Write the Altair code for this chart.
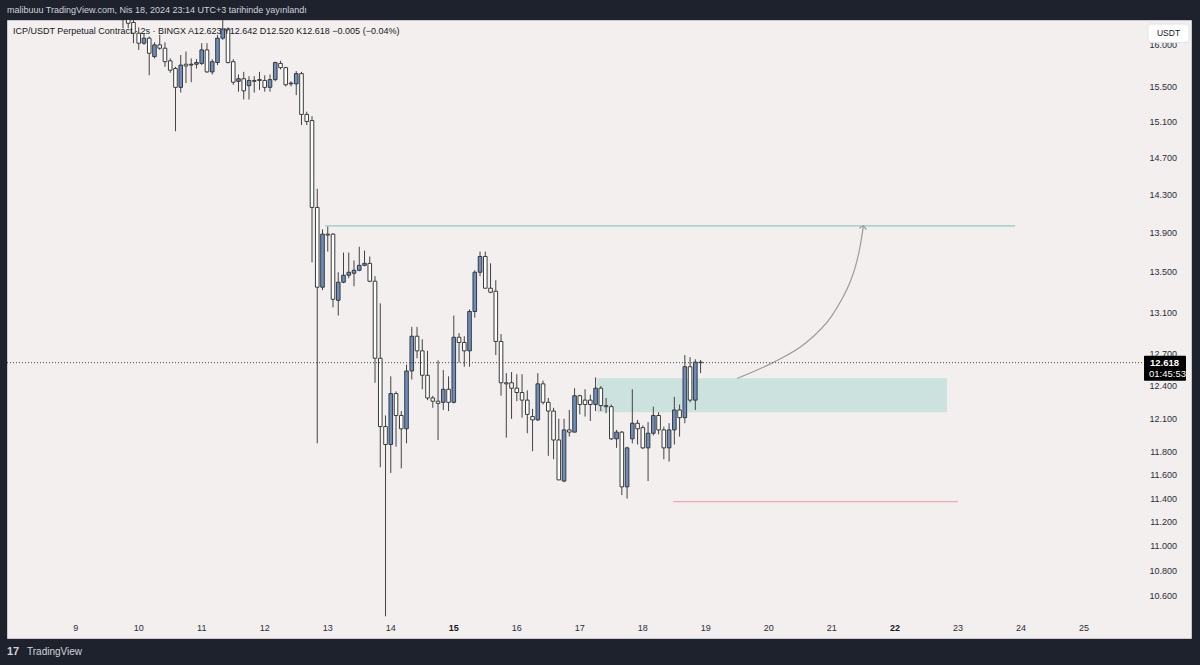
import altair as alt
import pandas as pd
import numpy as np

# ---------------- data (2h candles, ICP/USDT) ----------------
opens = [16.42, 16.31, 16.27, 16.14, 16.02, 16.08, 15.86, 16.00, 15.96, 15.81,
         15.72, 15.50, 15.77, 15.76, 15.77, 15.78, 15.94, 15.68, 15.79, 16.08,
         16.19, 15.80, 15.57, 15.60, 15.52, 15.58, 15.58, 15.58, 15.50, 15.59,
         15.78, 15.73, 15.54, 15.54, 15.66, 15.19, 15.12, 14.17, 13.35, 13.89,
         13.89, 13.22, 13.40, 13.47, 13.49, 13.52, 13.57, 13.59, 13.41, 12.66,
         12.03, 11.87, 12.33, 12.13, 12.01, 12.54, 12.87, 12.73, 12.50, 12.29,
         12.26, 12.25, 12.37, 12.25, 12.86, 12.81, 12.73, 13.11, 13.50, 13.66,
         13.34, 13.31, 12.82, 12.43, 12.43, 12.38, 12.34, 12.27, 12.12, 12.09,
         12.42, 12.25, 12.17, 11.91, 11.55, 12.00, 11.98, 12.31, 12.27, 12.27,
         12.23, 12.38, 12.22, 12.21, 11.92, 11.98, 11.50, 11.92, 12.06, 12.02,
         11.84, 11.97, 12.13, 12.00, 11.84, 12.00, 12.18, 12.11, 12.58, 12.27,
         12.623]
highs = [16.50, 16.36, 16.30, 16.21, 16.14, 16.10, 16.03, 16.12, 16.03, 15.84,
         15.74, 15.88, 15.92, 15.84, 15.83, 16.02, 16.02, 15.83, 16.12, 16.35,
         16.21, 15.83, 15.65, 15.68, 15.63, 15.63, 15.68, 15.64, 15.65, 15.80,
         15.81, 15.74, 15.57, 15.69, 15.68, 15.22, 15.17, 14.37, 13.94, 13.97,
         13.90, 13.50, 13.70, 13.70, 13.62, 13.76, 13.72, 13.66, 13.46, 13.19,
         12.13, 12.49, 12.35, 12.17, 12.60, 12.96, 12.96, 12.84, 12.73, 12.31,
         12.64, 12.55, 12.49, 13.07, 12.90, 12.87, 13.13, 13.52, 13.71, 13.71,
         13.59, 13.42, 12.89, 12.52, 12.53, 12.51, 12.51, 12.36, 12.19, 12.52,
         12.45, 12.29, 12.20, 12.10, 12.10, 12.18, 12.38, 12.32, 12.37, 12.32,
         12.48, 12.40, 12.29, 12.23, 12.00, 11.99, 11.85, 12.37, 12.09, 12.04,
         12.07, 12.21, 12.16, 12.03, 12.06, 12.30, 12.23, 12.69, 12.67, 12.65,
         12.642]
lows = [16.20, 16.20, 16.02, 15.94, 16.00, 15.64, 15.84, 15.94, 15.74, 15.67,
        15.00, 15.44, 15.55, 15.56, 15.72, 15.76, 15.67, 15.65, 15.76, 16.06,
        15.78, 15.53, 15.45, 15.36, 15.36, 15.44, 15.47, 15.45, 15.45, 15.57,
        15.71, 15.51, 15.51, 15.41, 15.07, 15.07, 13.60, 11.88, 13.32, 13.71,
        13.15, 13.07, 13.39, 13.44, 13.36, 13.51, 13.56, 13.40, 12.43, 11.67,
        10.44, 11.62, 11.85, 11.66, 11.88, 12.46, 12.66, 12.37, 12.27, 12.20,
        11.91, 12.18, 12.17, 12.24, 12.62, 12.58, 12.58, 13.05, 13.46, 13.34,
        13.29, 12.69, 12.31, 11.93, 12.10, 12.26, 12.11, 11.97, 11.81, 12.08,
        12.23, 11.77, 11.74, 11.56, 11.54, 11.94, 11.98, 12.14, 12.12, 12.08,
        12.17, 12.17, 12.15, 11.91, 11.84, 11.43, 11.40, 11.88, 11.87, 11.83,
        11.55, 11.95, 11.96, 11.74, 11.72, 11.87, 11.94, 12.06, 12.25, 12.18,
        12.520]
closes = [16.31, 16.26, 16.14, 16.02, 16.08, 15.90, 16.00, 15.96, 15.80, 15.70,
          15.50, 15.76, 15.75, 15.77, 15.79, 15.94, 15.68, 15.80, 16.08, 16.19,
          15.79, 15.56, 15.60, 15.46, 15.58, 15.57, 15.59, 15.50, 15.59, 15.79,
          15.73, 15.53, 15.55, 15.66, 15.19, 15.11, 14.17, 13.35, 13.89, 13.88,
          13.23, 13.40, 13.47, 13.50, 13.52, 13.57, 13.59, 13.41, 12.66, 12.03,
          11.87, 12.33, 12.13, 12.01, 12.54, 12.87, 12.73, 12.50, 12.29, 12.26,
          12.24, 12.37, 12.25, 12.86, 12.81, 12.73, 13.11, 13.50, 13.66, 13.34,
          13.30, 12.82, 12.43, 12.42, 12.38, 12.34, 12.27, 12.14, 12.09, 12.42,
          12.25, 12.17, 11.91, 11.56, 12.00, 11.98, 12.31, 12.23, 12.23, 12.23,
          12.38, 12.22, 12.21, 11.92, 11.98, 11.50, 11.84, 12.06, 12.01, 11.84,
          11.97, 12.13, 12.00, 11.84, 12.00, 12.18, 12.11, 12.58, 12.27, 12.623,
          12.618]
first_bar = "2024-04-09 18:00"   # open time of first drawn bar, 2-hour bars

# price-axis tick labels and day labels
price_ticks = [10.6, 10.8, 11.0, 11.2, 11.4, 11.6, 11.8, 12.1, 12.4, 12.7,
               13.1, 13.5, 13.9, 14.3, 14.7, 15.1, 15.5, 16.0]
day_ticks = [9, 10, 11, 12, 13, 14, 16, 17, 18, 19, 20, 21, 23, 24, 25]
week_start_days = [15, 22]   # drawn in bold

# drawings (day-of-April, price)
target_line = {"t0": 12.96, "t1": 23.91, "p": 13.977}
support_line = {"t0": 18.48, "t1": 23.00, "p": 11.374}
zone = {"t0": 17.278, "t1": 22.828, "p0": 12.16, "p1": 12.473}
arrow_t = [19.496, 20.047, 20.573, 20.991, 21.149, 21.281, 21.375, 21.438, 21.501]
arrow_p = [12.47, 12.614, 12.80, 13.06, 13.22, 13.39, 13.56, 13.73, 13.977]
last_price = 12.618

# ---------------- frame ----------------
W, H = 1184, 618
times = pd.date_range(first_bar, periods=len(opens), freq="2h")
df = pd.DataFrame({
    "t": times.day + times.hour / 24.0,
    "open": opens, "high": highs, "low": lows, "close": closes,
})
df["dir"] = np.where(df["close"] >= df["open"], "up", "down")

xs = alt.Scale(domain=[7.989, 26.620], nice=False, zero=False)
ys = alt.Scale(type="log", domain=[10.272, 16.30], nice=False)
X = lambda f: alt.X(f, scale=xs, axis=None)
Y = lambda f: alt.Y(f, scale=ys, axis=None)

FONT = "Liberation Sans"
LABEL = "#2a2e39"

base = alt.Chart(df)
wicks = base.mark_rule(color="#434343", strokeWidth=1, clip=True).encode(
    x=X("t:Q"), y=Y("low:Q"), y2="high:Q")
bodies = base.mark_bar(size=3.6, stroke="#3a3a3a", strokeWidth=1, clip=True).encode(
    x=X("t:Q"), y=Y("open:Q"), y2="close:Q",
    fill=alt.Fill("dir:N", scale=alt.Scale(domain=["up", "down"], range=["#6a8ec2", "#ffffff"]), legend=None),
)

# axis labels drawn as text through the scales
day_df = pd.DataFrame({"d": day_ticks})
wk_df = pd.DataFrame({"d": week_start_days})
day_lab = alt.Chart(day_df).mark_text(fontSize=9, font=FONT, color=LABEL, baseline="middle").encode(
    x=X("d:Q"), y=alt.value(608), text=alt.Text("d:Q", format="d"))
wk_lab = alt.Chart(wk_df).mark_text(fontSize=9, font=FONT, color="#131722", fontWeight="bold",
                                    baseline="middle").encode(
    x=X("d:Q"), y=alt.value(608), text=alt.Text("d:Q", format="d"))
pr_df = pd.DataFrame({"v": price_ticks})
pr_lab = alt.Chart(pr_df).mark_text(fontSize=9, font=FONT, color=LABEL, align="right",
                                    baseline="middle").encode(
    x=alt.value(1170), y=Y("v:Q"), text=alt.Text("v:Q", format=".3f"))

zone_df = pd.DataFrame([zone])
zone_rect = alt.Chart(zone_df).mark_rect(color="#cce2de", opacity=1, clip=True).encode(
    x=X("t0:Q"), x2="t1:Q", y=Y("p0:Q"), y2="p1:Q")
tline = alt.Chart(pd.DataFrame([target_line])).mark_rule(color="#8ccbbe", strokeWidth=1.3).encode(
    x=X("t0:Q"), x2="t1:Q", y=Y("p:Q"))
sline = alt.Chart(pd.DataFrame([support_line])).mark_rule(color="#f5a9ae", strokeWidth=1.3).encode(
    x=X("t0:Q"), x2="t1:Q", y=Y("p:Q"))
arrow_df = pd.DataFrame({"t": arrow_t, "p": arrow_p})
arrow = alt.Chart(arrow_df).mark_line(color="#9c9c9c", strokeWidth=1.2, interpolate="monotone").encode(
    x=X("t:Q"), y=Y("p:Q"))
head = alt.Chart(arrow_df.tail(1)).mark_point(
    shape="M -1 0.9 L 0 0 L 1 0.9", filled=False, size=50, angle=10,
    color="#9c9c9c", strokeWidth=1.2, opacity=1).encode(x=X("t:Q"), y=Y("p:Q"))

lp_df = pd.DataFrame({"p": [last_price], "lab": [f"{last_price:.3f}"], "cd": ["01:45:53"]})
lp_line = alt.Chart(lp_df).mark_rule(color="#444444", strokeWidth=1, strokeDash=[1, 2]).encode(
    x=alt.value(0), x2=alt.value(1137), y=Y("p:Q"))
lp_box = alt.Chart(lp_df).mark_rect(color="#000000", yOffset=-7, y2Offset=18, cornerRadius=1).encode(
    x=alt.value(1137), x2=alt.value(1179), y=Y("p:Q"), y2="p:Q")
lp_txt = alt.Chart(lp_df).mark_text(color="white", fontSize=9.5, fontWeight="bold", font=FONT,
                                     align="left", baseline="middle").encode(
    x=alt.value(1143), y=Y("p:Q"), text="lab:N")
lp_cd = alt.Chart(lp_df).mark_text(color="white", fontSize=9.5, font=FONT, dy=11,
                                    align="left", baseline="middle").encode(
    x=alt.value(1142), y=Y("p:Q"), text="cd:N")

one = pd.DataFrame({"a": [0]})
usdt_box = alt.Chart(one).mark_rect(color="#ffffff", cornerRadius=3, stroke="#e0e3eb").encode(
    x=alt.value(1141), x2=alt.value(1182), y=alt.value(4), y2=alt.value(22.5))
usdt_txt = alt.Chart(one).mark_text(text="USDT", fontSize=8.5, font=FONT, color="#131722",
                                    align="center", baseline="middle").encode(
    x=alt.value(1161.5), y=alt.value(13))
legend_txt = alt.Chart(one).mark_text(
    text="ICP/USDT Perpetual Contract · 2s · BINGX   A12.623  Y12.642  D12.520  K12.618  −0.005 (−0.04%)",
    fontSize=9, font=FONT, color="#131722", align="left", baseline="middle").encode(
    x=alt.value(6), y=alt.value(11))
title_txt = alt.Chart(one).mark_text(
    text="malibuuu TradingView.com, Nis 18, 2024 23:14 UTC+3 tarihinde yayınlandı",
    fontSize=9, font=FONT, color="#d1d4dc", align="left", baseline="middle").encode(
    x=alt.value(0), y=alt.value(-10))
logo_txt = alt.Chart(one).mark_text(text="17", fontSize=11, fontWeight="bold", font=FONT,
                                    color="#d1d4dc", align="left", baseline="middle").encode(
    x=alt.value(0), y=alt.value(632))
tv_txt = alt.Chart(one).mark_text(text="TradingView", fontSize=10, font=FONT, color="#d1d4dc",
                                  align="left", baseline="middle").encode(
    x=alt.value(20), y=alt.value(632))

chart = alt.layer(
    day_lab, wk_lab, pr_lab, zone_rect,
    wicks, bodies, tline, sline, arrow, head, lp_line, lp_box, lp_txt, lp_cd,
    usdt_box, usdt_txt, legend_txt, title_txt, logo_txt, tv_txt,
).properties(
    width=W, height=H,
    autosize=alt.AutoSizeParams(type="none"),
    padding={"left": 7, "top": 20, "right": 9, "bottom": 27},
    background="#1e222d",
).configure_view(fill="#f2efee", stroke="#c9c9c9", strokeWidth=1)

chart.save("out.html", embed_options={"renderer": "svg", "actions": False})
